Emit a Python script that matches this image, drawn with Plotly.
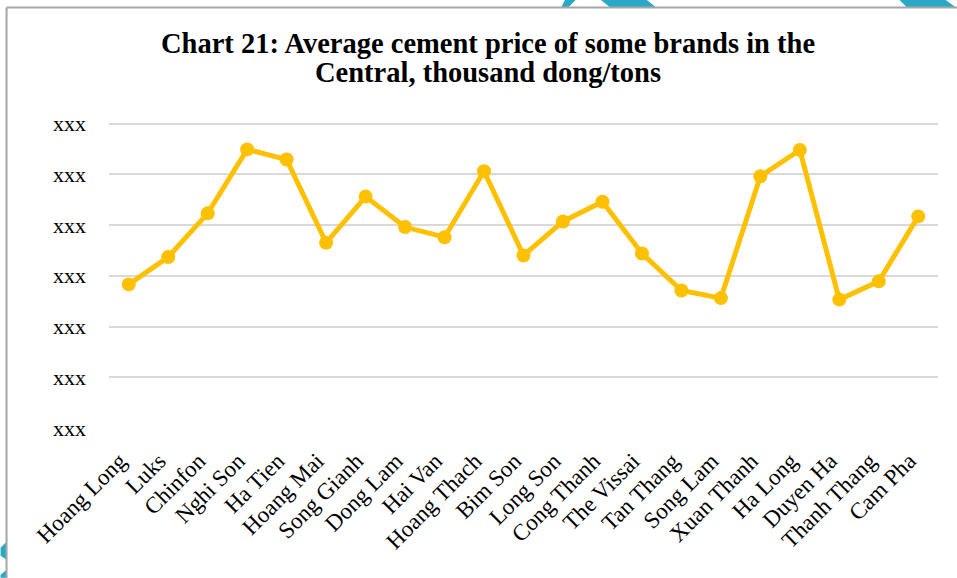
import plotly.graph_objects as go

brands = ["Hoang Long", "Luks", "Chinfon", "Nghi Son", "Ha Tien", "Hoang Mai",
          "Song Gianh", "Dong Lam", "Hai Van", "Hoang Thach", "Bim Son", "Long Son",
          "Cong Thanh", "The Vissai", "Tan Thang", "Song Lam", "Xuan Thanh", "Ha Long",
          "Duyen Ha", "Thanh Thang", "Cam Pha"]
prices = [283, 337, 423, 549, 529, 365, 456, 396, 376, 506, 340, 407,
          446, 344, 271, 256, 496, 548, 253, 289, 417]
tick_values = [0, 100, 200, 300, 400, 500, 600]
tick_labels = ["xxx"] * len(tick_values)
title_lines = ["Chart 21: Average cement price of some brands in the",
               "Central, thousand dong/tons"]

W, H = 957, 578
Y_MAX = 605
L, R, B = 108.5, 938.0, 428.3
T = B - (B - 124.0) * Y_MAX / 600

def px(x):
    return (x - L) / (R - L)

def py(y):
    return (B - y) / (B - T)

fig = go.Figure()
fig.add_trace(go.Scatter(
    x=brands, y=prices, mode="lines+markers",
    line=dict(color="#FFC000", width=5),
    marker=dict(color="#FFC000", size=14),
    showlegend=False, cliponaxis=False,
))

teal = "#2BA8C6"
def poly(pts, color):
    path = "M " + " L ".join(f"{px(a)},{py(b)}" for a, b in pts) + " Z"
    return dict(type="path", xref="paper", yref="paper", path=path,
                fillcolor=color, line=dict(width=0), layer="above")

shapes = [
    poly([(565, 0), (576, 0), (568, 8), (561, 8)], teal),
    poly([(600, 0), (646, 0), (656, 8), (610, 8)], teal),
    poly([(899, 0), (945, 0), (956, 8), (907, 8)], teal),
    poly([(0, 548), (6, 542), (6, 560), (0, 556)], teal),
    poly([(0, 575), (6, 570), (6, 578), (0, 578)], teal),
    dict(type="line", xref="paper", yref="paper", x0=px(6), y0=py(8), x1=px(960), y1=py(8),
         line=dict(color="#A6A6A6", width=2), layer="above"),
    dict(type="line", xref="paper", yref="paper", x0=px(6), y0=py(8), x1=px(6), y1=py(580),
         line=dict(color="#A6A6A6", width=2), layer="above"),
]

title_font = dict(family="Liberation Serif", size=28.5, color="#000000")
annotations = [
    dict(text=f"<b>{title_lines[0]}</b>", xref="paper", yref="paper",
         x=px(487.5), y=py(61), xanchor="center", yanchor="bottom",
         showarrow=False, font=title_font),
    dict(text=f"<b>{title_lines[1]}</b>", xref="paper", yref="paper",
         x=px(487.5), y=py(90), xanchor="center", yanchor="bottom",
         showarrow=False, font=title_font),
]

fig.update_layout(
    width=W, height=H,
    margin=dict(l=L, r=W - R, t=T, b=H - B, autoexpand=False),
    paper_bgcolor="white", plot_bgcolor="white",
    font=dict(family="Liberation Serif", color="#000000"),
    xaxis=dict(
        type="category", range=[-0.5, len(brands) - 0.5], tickangle=-45,
        showgrid=False, showline=False, zeroline=False,
        ticks="", tickfont=dict(family="Liberation Serif", size=23, color="#000000"),
        ticklabelstandoff=14, ticklabelshift=-9, automargin=False,
    ),
    yaxis=dict(
        range=[0, Y_MAX], tickvals=tick_values, ticktext=tick_labels,
        showgrid=True, gridcolor="#D9D9D9", gridwidth=1.5, zeroline=False,
        showline=False, ticks="",
        tickfont=dict(family="Liberation Serif", size=22, color="#000000"),
        ticklabelstandoff=22, automargin=False,
    ),
    shapes=shapes,
    annotations=annotations,
)

fig.write_html("out.html", config={"displayModeBar": False},
               post_script="document.body.style.margin='0';")
